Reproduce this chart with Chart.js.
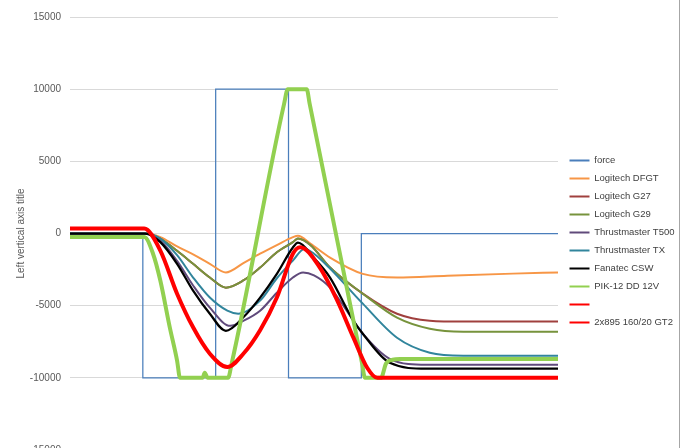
<!DOCTYPE html>
<html lang="en">
<head>
  <meta charset="UTF-8" />
  <title>Force response</title>
  <script src="https://cdn.jsdelivr.net/npm/chart.js"></script>
  <style>
    html, body { margin: 0; padding: 0; background: #fff; overflow: hidden; }
    #wrap { position: relative; width: 679px; height: 470px; border-right: 1px solid #a6a6a6; }
  </style>
</head>
<body>
  <div id="wrap"><canvas id="chart" width="679" height="470"></canvas></div>

  <script>
    // x = time (arbitrary units, force steps every 100), y = force
    const seriesNames = ['force', 'Logitech DFGT', 'Logitech G27', 'Logitech G29', 'Thrustmaster T500',
                         'Thrustmaster TX', 'Fanatec CSW', 'PIK-12 DD 12V', '', '2x895 160/20 GT2'];
    const seriesColors = ['#4a7ebb', '#f79646', '#a0403e', '#77933c', '#604a7b',
                          '#31859c', '#000000', '#92d050', '#ff0000', '#ff0000'];
    const yTicks = [-15000, -10000, -5000, 0, 5000, 10000, 15000];

    const force = [[0, 0], [100, 0], [100, -10000], [200, -10000], [200, 10000], [300, 10000],
                   [300, -10000], [400, -10000], [400, 0], [670, 0]];
    const dfgt = [[0, 0], [103, 0], [124, -250], [147, -900], [169, -1450], [192, -2100], [214, -2700],
                  [238, -2050], [261, -1400], [284, -800], [306, -250], [313, -150], [330, -700],
                  [357, -1670], [402, -2800], [449, -3050], [518, -2920], [608, -2780], [670, -2700]];
    const g27 = [[0, 0], [103, 0], [124, -350], [147, -1200], [169, -2100], [192, -3050], [214, -3750],
                 [238, -3250], [261, -2360], [284, -1300], [306, -600], [313, -350], [330, -800],
                 [357, -2360], [402, -4170], [449, -5560], [494, -6040], [540, -6100], [670, -6100]];
    const g29 = [[0, 0], [103, 0], [124, -350], [147, -1200], [169, -2100], [192, -3050], [214, -3750],
                 [238, -3250], [261, -2360], [284, -1300], [306, -600], [313, -350], [330, -800],
                 [357, -2360], [402, -4170], [449, -5830], [494, -6600], [540, -6800], [670, -6800]];
    const t500 = [[0, 0], [103, 0], [124, -490], [147, -1900], [169, -3600], [192, -5140], [220, -6400],
                  [238, -6050], [261, -5350], [284, -4100], [306, -3050], [320, -2700], [335, -2900],
                  [357, -3750], [402, -6940], [439, -8680], [490, -9100], [670, -9100]];
    const tx = [[0, 0], [103, 0], [124, -350], [147, -1500], [169, -3050], [192, -4440], [216, -5350],
                [231, -5560], [261, -4650], [284, -3100], [306, -1875], [322, -1050], [335, -1400],
                [357, -2430], [402, -4860], [449, -7220], [494, -8260], [540, -8470], [670, -8470]];
    const csw = [[0, 0], [103, 0], [124, -600], [147, -2100], [169, -3960], [192, -5560], [214, -6740],
                 [238, -5800], [261, -4440], [284, -2800], [306, -970], [313, -630], [335, -1700],
                 [357, -3050], [389, -6040], [402, -6940], [439, -8960], [490, -9370], [670, -9370]];
    const pik = [[0, -250], [102, -250], [114, -1400], [124, -3260], [137, -6500], [147, -8800],
                 [151, -10000], [182, -10000], [185, -9650], [189, -10000], [217, -10000], [222, -9000],
                 [294, 9000], [299, 10000], [325, 10000], [329, 9000], [401, -9000], [405, -10000],
                 [427, -10000], [434, -9000], [443, -8750], [453, -8700], [670, -8700]];
    const blank = [];
    const gt2 = [[0, 350], [102, 350], [124, -1180], [147, -4170], [169, -6500], [192, -8330], [216, -9250],
                 [238, -8330], [261, -6700], [284, -4440], [306, -1400], [316, -950], [343, -2360],
                 [367, -4650], [389, -7200], [408, -9300], [422, -10000], [670, -10000]];

    const seriesData = [force, dfgt, g27, g29, t500, tx, csw, pik, blank, gt2];
    const seriesWidths = [1.25, 2, 2, 2, 2, 2, 2.25, 4, 4, 4];

    const FONT = '"Liberation Sans", Arial, sans-serif';

    const datasets = seriesData.map((pts, i) => ({
      label: seriesNames[i],
      data: pts.map(p => ({ x: p[0], y: p[1] })),
      borderColor: seriesColors[i],
      backgroundColor: seriesColors[i],
      borderWidth: seriesWidths[i],
      pointRadius: 0,
      tension: i === 0 ? 0 : 0.4,
      cubicInterpolationMode: i === 0 ? 'default' : 'monotone',
      order: seriesData.length - i   // later series drawn on top, like the original
    }));

    // pin the legend's width and nudge it down a little
    const legendFix = {
      id: 'legendFix',
      beforeLayout(chart) {
        const lg = chart.legend;
        if (!lg || lg._fixed) return;
        const fit = lg.fit.bind(lg);
        const draw = lg.draw.bind(lg);
        lg.fit = function () { fit(); this.width = 121; };
        lg.draw = function () {
          this.ctx.save();
          this.ctx.translate(3, 8);
          draw();
          this.ctx.restore();
        };
        lg._fixed = true;
      }
    };

    new Chart(document.getElementById('chart'), {
      type: 'line',
      data: { datasets },
      plugins: [legendFix],
      options: {
        responsive: false,
        animation: false,
        layout: { padding: { left: 10, right: 0, top: 17, bottom: 20 } },
        scales: {
          x: { type: 'linear', min: 0, max: 670, display: false },
          y: {
            min: -15000, max: 15000,
            afterBuildTicks: s => { s.ticks = yTicks.map(v => ({ value: v })); },
            afterFit: s => { s.width = 60; },
            ticks: { color: '#595959', font: { family: FONT, size: 10 }, padding: 9, callback: v => String(v) },
            grid: { color: '#d9d9d9', drawTicks: false },
            border: { display: false },
            title: {
              display: true, text: 'Left vertical axis title',
              color: '#595959', font: { family: FONT, size: 10 }, padding: { top: 5, bottom: 0 }
            }
          }
        },
        plugins: {
          tooltip: { enabled: false },
          legend: {
            position: 'right',
            labels: {
              color: '#404040',
              font: { family: FONT, size: 9.5 },
              usePointStyle: true,
              pointStyle: 'line',
              pointStyleWidth: 20,
              padding: 8.5,
              sort: (a, b) => a.datasetIndex - b.datasetIndex,
              generateLabels: chart => Chart.defaults.plugins.legend.labels.generateLabels(chart)
                .map(l => Object.assign(l, { lineWidth: 2 }))
            }
          }
        }
      }
    });
  </script>
</body>
</html>
